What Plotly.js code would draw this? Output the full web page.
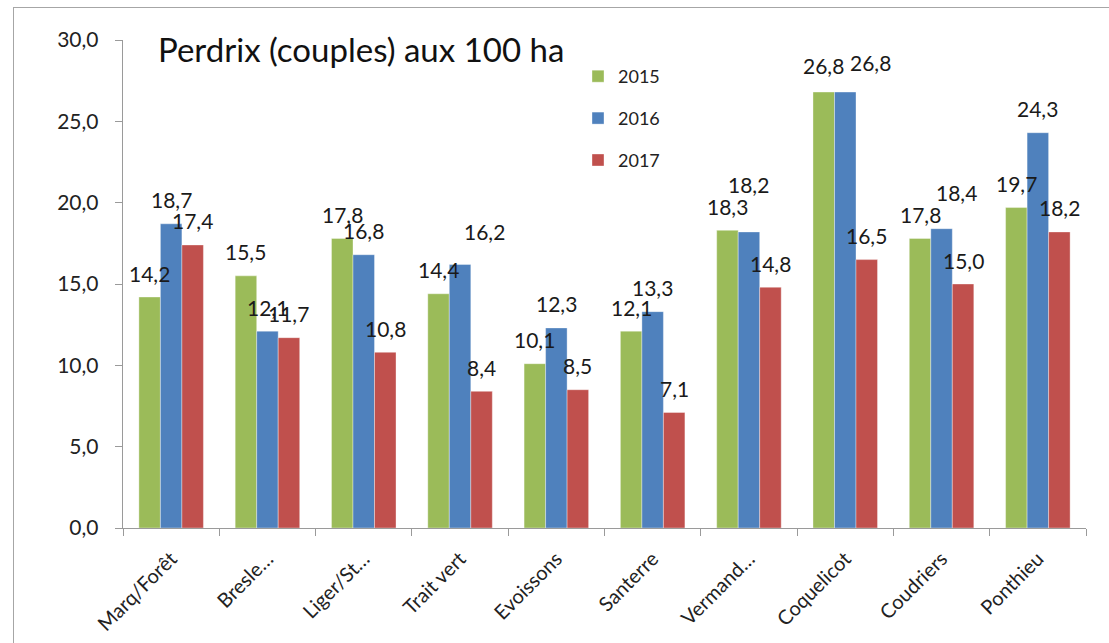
<!DOCTYPE html>
<html>
<head>
<meta charset="utf-8">
<script src="https://cdn.plot.ly/plotly-3.0.1.min.js"></script>
<style>
html,body{margin:0;padding:0;overflow:hidden;background:#fff;}
#frame{position:absolute;left:13px;top:7px;width:1200px;height:800px;border:1.5px solid #a6a6a6;box-sizing:border-box;}
#chart{position:absolute;left:0;top:0;width:1109px;height:643px;}
</style>
</head>
<body>
<div id="frame"></div>
<div id="chart"></div>
<script>
const categories = ['Marq/Forêt','Bresle…','Liger/St…','Trait vert','Evoissons','Santerre','Vermand…','Coquelicot','Coudriers','Ponthieu'];
const years = ['2015','2016','2017'];
const v2015 = [14.2,15.5,17.8,14.4,10.1,12.1,18.3,26.8,17.8,19.7];
const v2016 = [18.7,12.1,16.8,16.2,12.3,13.3,18.2,26.8,18.4,24.3];
const v2017 = [17.4,11.7,10.8,8.4,8.5,7.1,14.8,16.5,15.0,18.2];
const colors = ['#9BBB59','#4F81BD','#C0504D'];
const yTicks = [0,5,10,15,20,25,30];

// label placement tweaks (pixels) for overlapping data labels, [series, category, dx, dy]
const labelTweaks = [[1,3,24,-9],[1,6,0,-23],[0,7,0,-3],[1,7,25,-6],[1,8,15,-12]];

const series = [v2015, v2016, v2017];
const W = 1109, H = 643;
const margin = {l:123, r:23, t:40, b:115};
const bargap = 0.33;
const plotW = W - margin.l - margin.r;
const plotH = H - margin.t - margin.b;
const barW = plotW / categories.length * (1 - bargap) / series.length;
const FONT = 'Lato, "Open Sans", sans-serif';

const traces = series.map((vals, i) => ({
  type:'bar', name: years[i], x: categories, y: vals,
  marker:{color: colors[i], line:{color:'rgba(255,255,255,0.6)', width:0.6}},
  legendgroup: 'g'+i, hoverinfo:'skip'
}));

const annotations = [];
series.forEach((vals, i) => {
  vals.forEach((v, j) => {
    let dx = 0, dy = 0;
    labelTweaks.forEach(t => { if (t[0]===i && t[1]===j) { dx = t[2]; dy = t[3]; } });
    annotations.push({
      x: categories[j], y: v, xref:'x', yref:'y',
      text: v.toFixed(1).replace('.', ','),
      showarrow:false, xanchor:'center', yanchor:'middle',
      xshift: (i-1)*barW + dx, yshift: 24 - dy,
      font:{family: FONT, size:21, color:'#1a1a1a'}
    });
  });
});

const layout = {
  width: W, height: H,
  margin: margin,
  paper_bgcolor:'rgba(0,0,0,0)', plot_bgcolor:'rgba(0,0,0,0)',
  barmode:'group', bargap: bargap, bargroupgap: 0,
  separators: ', ',
  title: {text:'Perdrix (couples) aux 100 ha', x: 158/W, xanchor:'left', y: 1 - 50/H, yanchor:'middle',
          font:{family: FONT, size:33, color:'#111'}},
  font:{family: FONT, color:'#222'},
  xaxis:{
    type:'category', showgrid:false, showline:true, linecolor:'#9a9a9a', linewidth:1.3,
    ticks:'outside', ticklen:7, tickcolor:'#9a9a9a', tickson:'boundaries',
    tickangle:-45, tickfont:{size:20, color:'#222'}, zeroline:false, ticklabelstandoff: 10
  },
  yaxis:{
    range:[0,30], tickvals: yTicks, ticktext: yTicks.map(v => v.toFixed(1).replace('.', ',')),
    showgrid:false, showline:true, linecolor:'#9a9a9a', linewidth:1.3,
    ticks:'outside', ticklen:7, tickcolor:'#9a9a9a', ticklabelstandoff: 12,
    tickfont:{size:21, color:'#222'}, zeroline:false
  },
  legend:{
    x: (578 - margin.l)/plotW, xanchor:'left', y: (H - margin.b - 58)/plotH, yanchor:'top',
    bgcolor:'rgba(0,0,0,0)', font:{size:18, color:'#222'}, tracegroupgap: 15.5, itemwidth:30,
    traceorder:'grouped'
  },
  showlegend:true,
  annotations: annotations
};

Plotly.newPlot('chart', traces, layout, {displayModeBar:false, staticPlot:true});
</script>
</body>
</html>
